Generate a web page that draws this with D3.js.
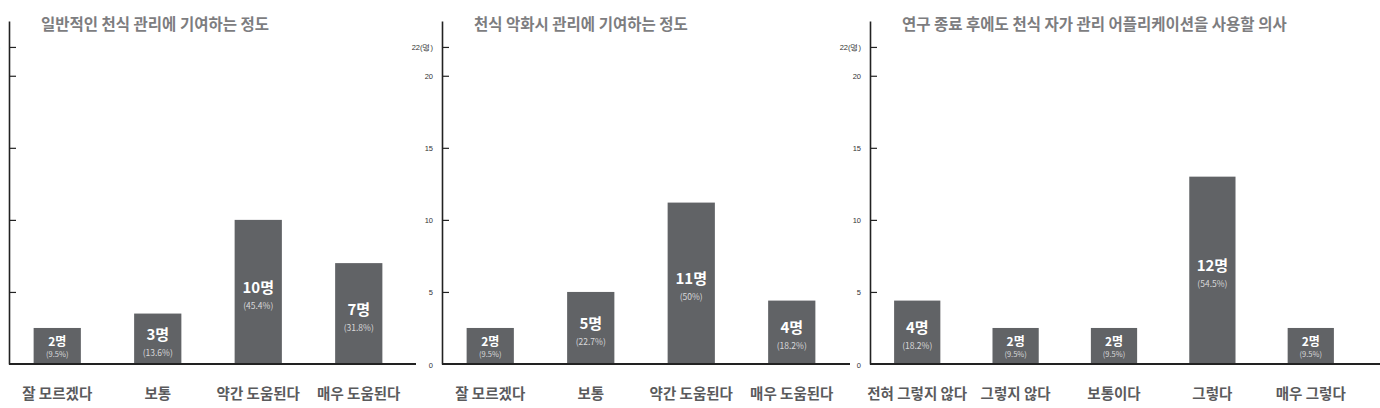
<!DOCTYPE html>
<html>
<head>
<meta charset="utf-8">
<script src="https://cdn.jsdelivr.net/npm/d3@7"></script>
<style>
  body { margin: 0; background: #fff; }
  svg { display: block; font-family: "Noto Sans CJK KR", "Noto Sans", sans-serif; }
</style>
</head>
<body>
<div class="charts"></div>
<script>
// chart data, one block per panel
const titles = [
    "일반적인 천식 관리에 기여하는 정도",
    "천식 악화시 관리에 기여하는 정도",
    "연구 종료 후에도 천식 자가 관리 어플리케이션을 사용할 의사"
];

const categories1 = ["잘 모르겠다", "보통", "약간 도움된다", "매우 도움된다"];
const counts1 = [2, 3, 10, 7];
const percents1 = ["9.5%", "13.6%", "45.4%", "31.8%"];
const heights1 = [2.5, 3.5, 10, 7];   // bar heights as drawn in the picture

const categories2 = ["잘 모르겠다", "보통", "약간 도움된다", "매우 도움된다"];
const counts2 = [2, 5, 11, 4];
const percents2 = ["9.5%", "22.7%", "50%", "18.2%"];
const heights2 = [2.5, 5, 11.2, 4.4];

const categories3 = ["전혀 그렇지 않다", "그렇지 않다", "보통이다", "그렇다", "매우 그렇다"];
const counts3 = [4, 2, 2, 12, 2];
const percents3 = ["18.2%", "9.5%", "9.5%", "54.5%", "9.5%"];
const heights3 = [4.4, 2.5, 2.5, 13, 2.5];

const yTicks = [0, 5, 10, 15, 20, 22];
const yTop = 23.8;  // axis line runs a bit above the last tick

const width = 1380;
const height = 408;
const baseY = 364;
const topY = 21;

// layout per panel: axis position, band range and where the base line stops
const layouts = [
    {axisX: 9, range: [9, 407], lineEnd: 416},
    {axisX: 442, range: [442, 840], lineEnd: 850},
    {axisX: 870, range: [870, 1358], lineEnd: 1380}
];

const panels = [
    {cats: categories1, counts: counts1, pcts: percents1, heights: heights1},
    {cats: categories2, counts: counts2, pcts: percents2, heights: heights2},
    {cats: categories3, counts: counts3, pcts: percents3, heights: heights3}
];

const svg = d3.select(".charts")
    .append("svg")
    .attr("width", width)
    .attr("height", height);

const y = d3.scaleLinear()
    .domain([0, yTop])
    .range([baseY, topY]);

panels.forEach((p, i) => {
    const lay = layouts[i];
    const rows = p.cats.map((c, j) => ({cat: c, n: p.counts[j], pct: p.pcts[j], h: p.heights[j]}));

    const x = d3.scaleBand()
        .domain(p.cats)
        .range(lay.range)
        .paddingInner(0.53)
        .paddingOuter(0.245);

    const g = svg.append("g");

    // title
    g.append("text")
        .attr("x", lay.axisX + 32)
        .attr("y", 30)
        .style("font-size", "15.5px")
        .style("font-weight", "bold")
        .style("fill", "#7d7d7f")
        .text(titles[i]);

    // bars
    g.selectAll("rect")
        .data(rows)
        .enter()
        .append("rect")
        .attr("x", d => x(d.cat))
        .attr("y", d => y(d.h))
        .attr("width", x.bandwidth())
        .attr("height", d => y(0) - y(d.h))
        .attr("fill", "#616366");

    // count + percent inside each bar, short bars get smaller text
    const barH = d => y(0) - y(d.h);
    const small = d => barH(d) < 45;
    const mid = d => (y(d.h) + y(0)) / 2;
    g.selectAll(".num")
        .data(rows)
        .enter()
        .append("text")
        .attr("class", "num")
        .attr("x", d => x(d.cat) + x.bandwidth() / 2)
        .attr("y", d => small(d) ? mid(d) : mid(d) + 1)
        .attr("text-anchor", "middle")
        .style("font-size", d => small(d) ? "12px" : "15px")
        .style("font-weight", "bold")
        .style("fill", "#fff")
        .text(d => d.n + "명");

    g.selectAll(".pct")
        .data(rows)
        .enter()
        .append("text")
        .attr("class", "pct")
        .attr("x", d => x(d.cat) + x.bandwidth() / 2)
        .attr("y", d => small(d) ? mid(d) + 11 : mid(d) + 17)
        .attr("text-anchor", "middle")
        .style("font-size", d => small(d) ? "7.5px" : "8.5px")
        .style("fill", "#d8d8da")
        .text(d => "(" + d.pct + ")");

    // category labels under the base line
    g.selectAll(".cat")
        .data(rows)
        .enter()
        .append("text")
        .attr("class", "cat")
        .attr("x", d => x(d.cat) + x.bandwidth() / 2)
        .attr("y", 399)
        .attr("text-anchor", "middle")
        .style("font-size", "14.5px")
        .style("font-weight", "bold")
        .style("fill", "#5a5a5c")
        .text(d => d.cat);

    // y axis, ticks point into the chart
    const ax = g.append("g")
        .attr("transform", `translate(${lay.axisX}, 0)`)
        .call(d3.axisLeft(y)
            .tickValues(yTicks)
            .tickSize(-7)
            .tickSizeOuter(0)
            .tickPadding(9)
            .tickFormat(d => d === 22 ? "22(명)" : d));
    ax.select(".domain").attr("stroke", "#222").attr("stroke-width", 1.6);
    ax.selectAll(".tick line").attr("stroke", "#222").attr("stroke-width", 1.2);
    ax.selectAll(".tick text")
        .attr("dy", "0.4em")
        .style("font-size", "7.5px")
        .style("font-family", "'Liberation Sans', sans-serif")
        .style("fill", "#333");
    ax.selectAll(".tick line").filter(d => d === 0).remove();

    // base line
    g.append("line")
        .attr("x1", lay.axisX)
        .attr("x2", lay.lineEnd)
        .attr("y1", y(0))
        .attr("y2", y(0))
        .attr("stroke", "#222")
        .attr("stroke-width", 1.8);
});
</script>
</body>
</html>
